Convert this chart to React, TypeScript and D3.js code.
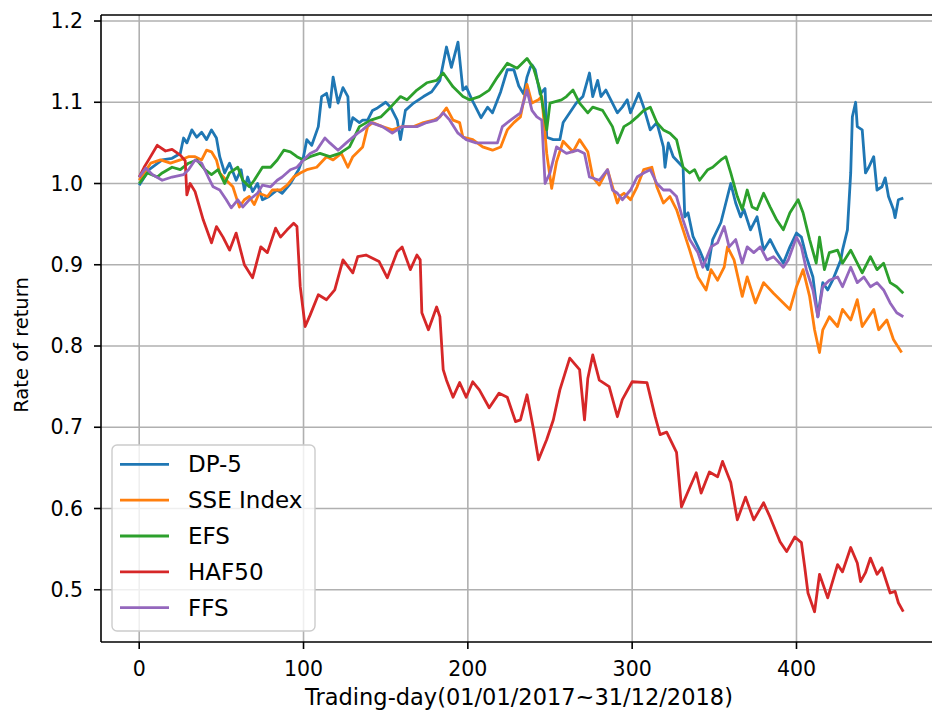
import React from 'react';
import * as d3 from 'd3';

type P = [number, number];

const seriesNames = ['DP-5', 'SSE Index', 'EFS', 'HAF50', 'FFS'];
const seriesColors = ['#1f77b4', '#ff7f0e', '#2ca02c', '#d62728', '#9467bd'];

const dp5: P[] = [[0,0.998],[6,1.017],[14,1.029],[20,1.031],[25,1.037],[27,1.056],[29,1.05],[32,1.066],[35,1.057],[38,1.063],[41,1.054],[44,1.066],[47,1.056],[49,1.033],[52,1.013],[55,1.025],[59,1.004],[62,1.017],[64,0.992],[66,1.008],[69,0.99],[72,1.0],[75,0.98],[79,0.984],[84,0.992],[87,0.988],[92,1.0],[97,1.017],[100,1.033],[102,1.054],[105,1.047],[109,1.07],[111,1.107],[114,1.111],[116,1.094],[118,1.131],[121,1.099],[124,1.118],[127,1.107],[128,1.066],[130,1.081],[134,1.075],[136,1.078],[139,1.078],[142,1.09],[145,1.093],[150,1.1],[153,1.094],[157,1.078],[159,1.054],[162,1.09],[167,1.099],[173,1.107],[178,1.113],[183,1.127],[187,1.168],[190,1.143],[194,1.174],[197,1.115],[199,1.119],[203,1.101],[208,1.081],[212,1.094],[215,1.087],[220,1.113],[224,1.14],[228,1.14],[231,1.12],[234,1.11],[236,1.131],[238,1.143],[239,1.146],[241,1.14],[244,1.11],[247,1.117],[248,1.057],[252,1.054],[256,1.054],[258,1.075],[262,1.087],[266,1.099],[270,1.107],[274,1.136],[276,1.107],[279,1.127],[281,1.107],[284,1.115],[287,1.103],[291,1.087],[294,1.094],[297,1.103],[299,1.087],[304,1.111],[307,1.094],[311,1.066],[315,1.075],[319,1.045],[320,1.02],[322,1.05],[325,1.033],[331,1.02],[332,0.959],[334,0.964],[337,0.935],[341,0.918],[346,0.894],[349,0.931],[354,0.952],[358,0.984],[360,1.0],[363,0.976],[366,0.959],[368,0.968],[372,0.943],[376,0.959],[380,0.918],[384,0.931],[388,0.915],[392,0.902],[396,0.922],[400,0.939],[403,0.934],[406,0.91],[410,0.885],[413,0.836],[416,0.878],[419,0.869],[422,0.881],[427,0.906],[428,0.918],[431,0.943],[433,1.013],[434,1.082],[436,1.1],[437,1.07],[440,1.066],[442,1.013],[444,1.02],[447,1.033],[449,0.992],[452,0.996],[454,1.007],[456,0.984],[459,0.968],[460,0.958],[462,0.98],[465,0.982]];

const sse: P[] = [[0,1.004],[7,1.025],[13,1.029],[19,1.025],[25,1.029],[30,1.033],[34,1.033],[38,1.029],[41,1.041],[44,1.039],[47,1.029],[49,1.013],[53,1.004],[57,0.996],[61,0.971],[64,0.98],[67,0.984],[70,0.974],[73,0.988],[78,0.984],[81,0.992],[86,0.992],[90,0.998],[94,1.008],[98,1.013],[102,1.017],[108,1.02],[114,1.033],[118,1.029],[123,1.037],[127,1.02],[130,1.033],[136,1.045],[139,1.07],[142,1.075],[148,1.07],[154,1.066],[160,1.07],[167,1.07],[173,1.075],[179,1.078],[183,1.082],[187,1.093],[191,1.078],[195,1.075],[197,1.057],[203,1.054],[209,1.045],[215,1.041],[220,1.045],[224,1.066],[228,1.075],[232,1.082],[236,1.122],[239,1.099],[243,1.103],[245,1.107],[248,1.037],[251,0.994],[254,1.027],[258,1.052],[264,1.039],[268,1.054],[273,1.039],[276,1.008],[280,0.998],[285,1.017],[288,0.996],[291,0.976],[293,0.985],[295,0.988],[299,0.98],[303,0.996],[307,1.017],[312,1.02],[315,0.996],[319,0.976],[323,0.984],[327,0.968],[331,0.943],[335,0.918],[340,0.885],[345,0.869],[348,0.894],[352,0.881],[356,0.897],[358,0.922],[362,0.906],[367,0.861],[370,0.885],[375,0.853],[380,0.878],[386,0.865],[392,0.853],[396,0.845],[400,0.873],[404,0.894],[408,0.861],[411,0.82],[414,0.792],[416,0.82],[420,0.836],[425,0.824],[428,0.845],[433,0.832],[437,0.857],[440,0.824],[447,0.845],[450,0.82],[455,0.832],[459,0.808],[464,0.792]];

const efs: P[] = [[0,1.0],[5,1.013],[11,1.008],[14,1.013],[20,1.02],[25,1.017],[30,1.025],[35,1.029],[40,1.017],[44,1.011],[48,1.017],[52,1.0],[55,1.013],[60,1.02],[63,1.004],[67,0.996],[70,1.004],[75,1.02],[80,1.02],[84,1.029],[88,1.041],[92,1.039],[96,1.033],[100,1.029],[104,1.033],[110,1.037],[116,1.033],[122,1.037],[128,1.045],[134,1.07],[141,1.078],[147,1.082],[153,1.094],[159,1.107],[163,1.103],[169,1.115],[175,1.124],[181,1.127],[185,1.136],[191,1.119],[197,1.107],[201,1.103],[207,1.107],[213,1.115],[218,1.131],[224,1.148],[230,1.142],[236,1.154],[240,1.142],[244,1.115],[248,1.066],[250,1.099],[257,1.103],[260,1.107],[264,1.115],[268,1.099],[273,1.087],[276,1.094],[282,1.09],[288,1.07],[291,1.05],[295,1.07],[299,1.075],[303,1.082],[307,1.09],[311,1.094],[315,1.075],[319,1.066],[323,1.062],[327,1.054],[331,1.02],[335,1.013],[338,1.017],[341,1.004],[346,1.017],[349,1.02],[354,1.029],[357,1.033],[360,1.013],[364,0.984],[367,0.968],[370,0.992],[373,0.971],[376,0.968],[380,0.988],[384,0.971],[388,0.955],[392,0.943],[396,0.964],[401,0.98],[404,0.964],[408,0.931],[412,0.902],[414,0.934],[417,0.894],[420,0.915],[425,0.918],[428,0.902],[433,0.918],[437,0.902],[440,0.89],[445,0.91],[449,0.894],[453,0.902],[457,0.878],[461,0.873],[465,0.865]];

const haf50: P[] = [[0,1.008],[3,1.02],[6,1.03],[11,1.047],[16,1.04],[20,1.042],[25,1.035],[28,1.028],[29,0.986],[31,1.0],[34,0.99],[39,0.955],[44,0.927],[47,0.947],[51,0.934],[55,0.918],[59,0.939],[64,0.9],[69,0.884],[74,0.922],[78,0.915],[83,0.945],[86,0.934],[90,0.943],[94,0.951],[96,0.947],[98,0.873],[101,0.824],[104,0.838],[109,0.863],[114,0.857],[119,0.869],[124,0.906],[130,0.89],[133,0.91],[138,0.912],[146,0.904],[151,0.884],[157,0.916],[160,0.922],[165,0.894],[169,0.912],[171,0.906],[172,0.841],[176,0.82],[181,0.848],[183,0.836],[185,0.771],[187,0.758],[191,0.737],[195,0.755],[199,0.737],[203,0.756],[207,0.746],[213,0.724],[219,0.742],[224,0.737],[229,0.707],[232,0.709],[236,0.74],[240,0.697],[243,0.66],[248,0.685],[252,0.709],[256,0.746],[262,0.785],[268,0.771],[271,0.709],[273,0.76],[276,0.789],[280,0.758],[286,0.75],[291,0.713],[294,0.734],[300,0.756],[309,0.755],[314,0.713],[317,0.691],[321,0.694],[327,0.669],[330,0.602],[334,0.621],[339,0.644],[342,0.619],[347,0.645],[352,0.639],[355,0.658],[360,0.632],[364,0.586],[369,0.614],[374,0.586],[380,0.607],[384,0.589],[390,0.559],[394,0.547],[399,0.565],[403,0.558],[405,0.528],[407,0.496],[411,0.473],[414,0.519],[419,0.49],[425,0.531],[428,0.522],[433,0.552],[437,0.533],[439,0.51],[442,0.521],[445,0.539],[449,0.519],[452,0.527],[457,0.496],[460,0.498],[462,0.484],[465,0.473]];

const ffs: P[] = [[0,1.008],[4,1.019],[8,1.011],[14,1.004],[20,1.008],[27,1.011],[30,1.017],[34,1.029],[38,1.025],[42,1.008],[45,0.996],[49,0.992],[53,0.98],[56,0.97],[60,0.98],[63,0.971],[67,0.98],[72,0.988],[75,0.998],[80,0.996],[84,1.004],[87,1.008],[92,1.017],[96,1.02],[100,1.029],[104,1.037],[108,1.041],[113,1.056],[116,1.05],[121,1.041],[126,1.05],[133,1.062],[136,1.066],[141,1.075],[148,1.07],[154,1.062],[160,1.07],[169,1.07],[175,1.075],[181,1.078],[185,1.087],[189,1.078],[194,1.062],[199,1.054],[205,1.05],[212,1.05],[218,1.05],[221,1.07],[226,1.078],[232,1.087],[236,1.115],[239,1.09],[242,1.082],[245,1.078],[247,1.0],[250,1.013],[254,1.045],[260,1.037],[267,1.041],[271,1.037],[274,1.008],[280,1.004],[285,1.017],[288,0.992],[291,0.988],[294,0.98],[299,0.992],[303,1.008],[307,1.013],[311,1.017],[315,1.0],[319,0.992],[323,0.992],[327,0.984],[331,0.955],[335,0.931],[340,0.915],[343,0.897],[348,0.922],[352,0.927],[356,0.947],[359,0.922],[363,0.931],[367,0.902],[370,0.922],[374,0.915],[378,0.922],[382,0.906],[386,0.91],[392,0.897],[395,0.906],[400,0.934],[403,0.922],[406,0.894],[410,0.869],[413,0.836],[416,0.873],[420,0.881],[425,0.885],[428,0.873],[433,0.897],[437,0.878],[441,0.885],[445,0.873],[449,0.878],[453,0.869],[457,0.853],[461,0.841],[465,0.836]];

const seriesData: P[][] = [dp5, sse, efs, haf50, ffs];

const xTicks = [0, 100, 200, 300, 400];
const yTicks = [0.5, 0.6, 0.7, 0.8, 0.9, 1.0, 1.1, 1.2];
const xLabel = 'Trading-day(01/01/2017~31/12/2018)';
const yLabel = 'Rate of return';

const FONT = 'DejaVu Sans';

export default function App() {
  const W = 932, H = 715;
  const left = 101, right = 941.5, top = 15, bottom = 642;
  const x = d3.scaleLinear().domain([-23.25, 488.25]).range([left, right]);
  const y = d3.scaleLinear().domain([0.4357, 1.2074]).range([bottom, top]);
  const line = d3.line<P>().x(d => x(d[0])).y(d => y(d[1]));
  const fmt = d3.format('.1f');

  const legX = 112, legY = 445, legW = 203, legH = 186;
  return (
    <svg width={W} height={H} style={{ position: 'absolute', left: 0, top: 0, background: '#fff' }}
      fontFamily={FONT}>
      <rect x={0} y={0} width={W} height={H} fill="#fff" />
      <defs>
        <clipPath id="plot">
          <rect x={left} y={top} width={right - left} height={bottom - top} />
        </clipPath>
      </defs>
      <g stroke="#b0b0b0" strokeWidth={1.6}>
        {xTicks.map(t => <line key={'gx' + t} x1={x(t)} x2={x(t)} y1={top} y2={bottom} />)}
        {yTicks.map(t => <line key={'gy' + t} x1={left} x2={right} y1={y(t)} y2={y(t)} />)}
      </g>
      <g clipPath="url(#plot)" fill="none" strokeWidth={2.8} strokeLinejoin="round" strokeLinecap="butt">
        {seriesData.map((s, i) => (
          <path key={seriesNames[i]} d={line(s) || ''} stroke={seriesColors[i]} />
        ))}
      </g>
      <g stroke="#000" strokeWidth={1.6} fill="none">
        <line x1={left} x2={left} y1={top} y2={bottom} />
        <line x1={left} x2={right} y1={bottom} y2={bottom} />
        <line x1={left} x2={right} y1={top} y2={top} />
        <line x1={right} x2={right} y1={top} y2={bottom} />
      </g>
      <g stroke="#000" strokeWidth={1.6}>
        {xTicks.map(t => <line key={'tx' + t} x1={x(t)} x2={x(t)} y1={bottom} y2={bottom + 7} />)}
        {yTicks.map(t => <line key={'ty' + t} x1={left - 7} x2={left} y1={y(t)} y2={y(t)} />)}
      </g>
      <g fontSize={20.5} fill="#000">
        {xTicks.map(t => (
          <text key={'lx' + t} x={x(t)} y={676} textAnchor="middle">{t}</text>
        ))}
        {yTicks.map(t => (
          <text key={'ly' + t} x={83} y={y(t)} textAnchor="end" dominantBaseline="central">{fmt(t)}</text>
        ))}
      </g>
      <text x={519} y={705} textAnchor="middle" fontSize={22.5} fill="#000">{xLabel}</text>
      <text transform={`translate(28,345) rotate(-90)`} textAnchor="middle" fontSize={19.5} fill="#000">{yLabel}</text>
      <g>
        <rect x={legX} y={legY} width={legW} height={legH} rx={5} ry={5} fill="#fff" fillOpacity={0.8} stroke="#cccccc" strokeWidth={1.4} />
        {seriesNames.map((n, i) => {
          const cy = 464.3 + i * 35.85;
          return (
            <g key={'leg' + n}>
              <line x1={120} x2={169} y1={cy} y2={cy} stroke={seriesColors[i]} strokeWidth={2.8} />
              <text x={188} y={cy} dominantBaseline="central" fontSize={23} fill="#000">{n}</text>
            </g>
          );
        })}
      </g>
    </svg>
  );
}
